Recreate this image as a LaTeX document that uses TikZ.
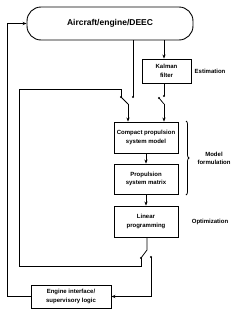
\documentclass[tikz,border=0pt]{standalone}
\usepackage{fontspec}
\setmainfont{Liberation Sans}
\usetikzlibrary{arrows.meta,decorations.pathreplacing,calc}
\begin{document}
\begin{tikzpicture}[x=1pt,y=-1pt,
 box/.style={draw,line width=0.9pt,inner sep=0pt,align=center,font=\fontsize{6}{8.5}\selectfont\bfseries},
 conn/.style={line width=0.75pt},
 arr/.style={conn,-{Stealth[length=4pt,width=3.2pt]}},
 contact/.style={circle,fill,inner sep=0pt,minimum size=2.2pt},
 lbl/.style={font=\fontsize{6}{8}\selectfont\bfseries,align=center}]
\useasboundingbox (0,0) rectangle (240,316);
\node[box,rounded corners=14pt,minimum width=166pt,minimum height=33pt,font=\fontsize{8.5}{10}\selectfont\bfseries] (top) at (110,23.5) {Aircraft/engine/DEEC};
\node[box,minimum width=49pt,minimum height=24pt] (kal) at (166.5,71) {Kalman\\filter};
\node[box,minimum width=64pt,minimum height=31pt] (cmp) at (146,137.5) {Compact propulsion\\system model};
\node[box,minimum width=64pt,minimum height=30pt] (mat) at (146,179) {Propulsion\\system matrix};
\node[box,minimum width=64pt,minimum height=31pt] (lp) at (146,221.5) {Linear\\programming};
\node[box,minimum width=80pt,minimum height=23pt] (eng) at (71,296.5) {Engine interface/\\supervisory logic};
\node[lbl] (est) at (210,71) {Estimation};
\node[lbl] (mf) at (214,158) {Model\\formulation};
\node[lbl] (opt) at (210,222) {Optimization};
% switch coordinates
\coordinate (kx) at (164,0);
\coordinate (s1a) at (121,97);
\coordinate (s1b) at (133,97);
\coordinate (s1p) at (128,104);
\coordinate (s2a) at (164,96);
\coordinate (s2t) at (159,98);
\coordinate (s2p) at (164,104);
\coordinate (s3p) at (147,250);
\coordinate (s3a) at (141,258);
\coordinate (s3b) at (151,257);
\coordinate (l1) at (121,89);
\coordinate (l2) at (19,89);
\coordinate (l3) at (19,266);
\coordinate (l4) at (141,266);
\coordinate (o1) at (7,296.5);
% connectors
\draw[arr] (top.south -| kx) -- (kal.north -| kx);
\draw[conn] (kal.south -| kx) -- (s2a);
\draw[conn] (s2p) -- (s2t);
\draw[arr] (s2p) -- (s2p |- cmp.north);
\draw[conn] (top.south -| s1b) -- (s1b);
\draw[conn] (s1p) -- (s1a);
\draw[arr] (s1p) -- (s1p |- cmp.north);
\draw[arr] (cmp) -- (mat);
\draw[arr] (mat) -- (lp);
\draw[conn] (lp.south -| s3p) -- (s3p) -- (s3a);
\draw[conn] (s1a) -- (l1) -- (l2) -- (l3) -- (l4) -- (s3a);
\draw[arr] (s3b) |- (eng.east);
\draw[arr] (eng.west) -- (o1) |- (top.west);
\foreach \c in {s1a,s1b,s2a,s2t,s3a,s3b} \node[contact] at (\c) {};
\draw[conn,decorate,decoration={brace,amplitude=3pt}] (186,121) -- (186,195);
\end{tikzpicture}
\end{document}
